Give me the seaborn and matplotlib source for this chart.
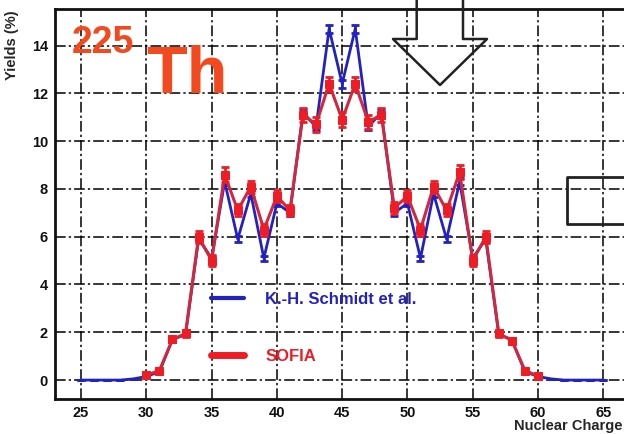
import numpy as np
import pandas as pd
import matplotlib
matplotlib.use('Agg')
import matplotlib.pyplot as plt
import seaborn as sns
from matplotlib.lines import Line2D
from matplotlib.ticker import MultipleLocator

# Datos
z_schmidt = list(range(25, 66))
y_schmidt = [0, 0, 0, 0, 0.05,
             0.15, 0.35, 1.7, 1.9, 5.9,
             5.1, 8.3, 5.9, 7.8, 5.1,
             7.4, 7.0, 11.2, 10.6, 14.7,
             12.4, 14.7, 10.6, 11.2, 7.0,
             7.4, 5.1, 7.8, 5.9, 8.3,
             5.1, 5.9, 1.9, 1.7, 0.35,
             0.15, 0.05, 0, 0, 0,
             0]
e_schmidt = [0, 0, 0, 0, 0,
             0.02, 0.03, 0.06, 0.06, 0.12,
             0.1, 0.15, 0.12, 0.14, 0.1,
             0.13, 0.12, 0.15, 0.15, 0.18,
             0.16, 0.18, 0.15, 0.15, 0.12,
             0.13, 0.1, 0.14, 0.12, 0.15,
             0.1, 0.12, 0.06, 0.06, 0.03,
             0.02, 0, 0, 0, 0,
             0]

z_sofia = list(range(30, 61))
y_sofia = [0.2, 0.4, 1.7, 1.95, 6.0,
           5.0, 8.6, 7.1, 8.1, 6.3,
           7.7, 7.1, 11.1, 10.7, 12.4,
           10.9, 12.4, 10.8, 11.1, 7.2,
           7.7, 6.3, 8.1, 7.1, 8.7,
           5.0, 6.0, 1.95, 1.65, 0.4,
           0.17]
e_sofia = [0.05, 0.08, 0.1, 0.15, 0.25,
           0.22, 0.3, 0.25, 0.25, 0.25,
           0.25, 0.22, 0.3, 0.3, 0.3,
           0.3, 0.3, 0.3, 0.3, 0.25,
           0.25, 0.25, 0.25, 0.25, 0.3,
           0.22, 0.25, 0.15, 0.1, 0.08,
           0.05]

df_schmidt = pd.DataFrame({'Z': z_schmidt, 'Y': y_schmidt})
df_sofia = pd.DataFrame({'Z': z_sofia, 'Y': y_sofia})

azul = '#2222c0'
rojo_linea = '#d0283e'
rojo = '#ee1c24'
naranja = '#f24a1e'

sns.set_style('white')
plt.rcParams['font.family'] = ['Liberation Sans', 'DejaVu Sans']
plt.rcParams['font.weight'] = 'bold'

fig = plt.figure(figsize=(6.24, 4.34), dpi=100)
ax = fig.add_axes([55 / 624, 35.3 / 434, 575 / 624, 389.7 / 434])

# Curvas
sns.lineplot(data=df_schmidt, x='Z', y='Y', ax=ax, color=azul, linewidth=2, zorder=3)
ax.errorbar(z_schmidt, y_schmidt, yerr=e_schmidt, fmt='none', ecolor=azul,
            elinewidth=2, capsize=3, capthick=2, zorder=3)
sns.lineplot(data=df_sofia, x='Z', y='Y', ax=ax, color=rojo_linea, linewidth=2.2,
             marker='s', markersize=5.5, markerfacecolor=rojo, markeredgecolor=rojo, zorder=4)
ax.errorbar(z_sofia, y_sofia, yerr=e_sofia, fmt='none', ecolor=rojo,
            elinewidth=2, capsize=3, capthick=2, zorder=4)

# Ejes estilo ROOT
ax.set_xlim(23.0, 67.05)
ax.set_ylim(-0.78, 15.53)
ax.set_xlabel('')
ax.set_ylabel('')
ax.xaxis.set_major_locator(MultipleLocator(5))
ax.xaxis.set_minor_locator(MultipleLocator(1))
ax.yaxis.set_major_locator(MultipleLocator(2))
ax.yaxis.set_minor_locator(MultipleLocator(0.5))
ax.tick_params(which='both', direction='in', width=1.3, colors='#111111',
               labelsize=10.5, top=False, right=False)
ax.tick_params(axis='x', which='major', length=10, pad=5)
ax.tick_params(axis='x', which='minor', length=6)
ax.tick_params(axis='y', which='major', length=10, pad=5)
ax.tick_params(axis='y', which='minor', length=8)
for lab in ax.get_xticklabels() + ax.get_yticklabels():
    lab.set_fontweight('bold')
ax.grid(True, which='major', color='black', linewidth=1.1, linestyle=(0, (7, 2, 1.5, 2)))
for s in ['left', 'bottom', 'top']:
    ax.spines[s].set_linewidth(2)
    ax.spines[s].set_color('#111111')

# Títulos de los ejes
fig.text(622 / 624, 1 - 426 / 434, 'Nuclear Charge', fontsize=10.5, fontweight='bold',
         ha='right', va='center')
fig.text(12 / 624, 1 - 10 / 434, 'Yields (%)', fontsize=10.5, fontweight='bold',
         rotation=90, ha='center', va='top')

# Leyenda
handles = [Line2D([], [], color=azul, linewidth=3),
           Line2D([], [], color=rojo, linewidth=5)]
ax.legend(handles, ['K.-H. Schmidt et al.', 'SOFIA'], loc='upper left',
          bbox_to_anchor=((211 - 55) / 575, (398.7 - 292) / 389.7),
          frameon=False, borderpad=0, borderaxespad=0,
          handlelength=2.0, handletextpad=1.25, labelspacing=2.5,
          labelcolor=[azul, rojo], prop={'weight': 'bold', 'size': 12})

# Título del núcleo
fig.text(72 / 624, 1 - 53 / 434, '225', color=naranja, fontsize=27, fontweight='bold',
         va='baseline', ha='left')
fig.text(146 / 624, 1 - 93 / 434, 'Th', color=naranja, fontsize=48, fontweight='bold',
         va='baseline', ha='left')

# Flecha y recuadro
fx = lambda v: v / 624
fy = lambda v: 1 - v / 434
flecha_x = [416.7, 416.7, 393, 440, 487, 463, 463]
flecha_y = [-5, 39, 39, 85, 39, 39, -5]
fig.add_artist(Line2D([fx(v) for v in flecha_x], [fy(v) for v in flecha_y],
                      color='#222222', linewidth=1.8, transform=fig.transFigure))
caja_x = [640, 566.5, 566.5, 640]
caja_y = [177, 177, 224, 224]
fig.add_artist(Line2D([fx(v) for v in caja_x], [fy(v) for v in caja_y],
                      color='#222222', linewidth=2, transform=fig.transFigure))

fig.savefig('out.png', dpi=100)
